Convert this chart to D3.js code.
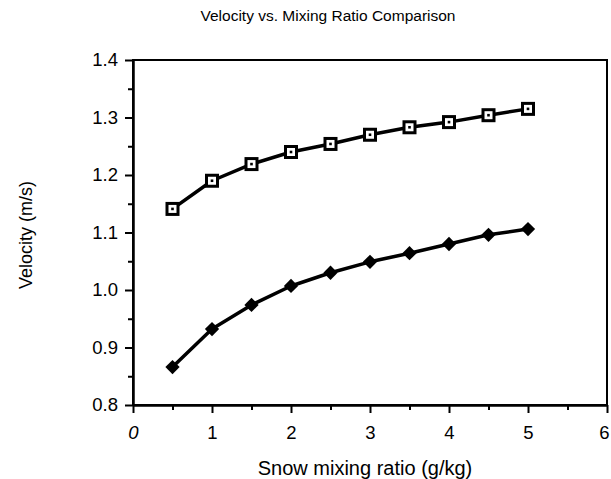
<!DOCTYPE html>
<html>
<head>
<meta charset="utf-8">
<script src="https://cdn.jsdelivr.net/npm/d3@7"></script>
<style>
	body { margin: 0; background: #fff; }
	svg { font-family: 'Liberation Sans', Arial, sans-serif; }
</style>
</head>
<body>
<script>
let width = 611;
let height = 479;

// snow mixing ratio (g/kg)
const mixing = [0.5, 1, 1.5, 2, 2.5, 3, 3.5, 4, 4.5, 5];
// open squares (upper curve)
const velSquare = [1.141, 1.190, 1.219, 1.240, 1.254, 1.270, 1.283, 1.292, 1.304, 1.315];
// filled diamonds (lower curve)
const velDiamond = [0.866, 0.932, 0.974, 1.007, 1.030, 1.049, 1.064, 1.080, 1.096, 1.106];

const xTicks = [0, 1, 2, 3, 4, 5, 6];
const xMinor = [0.5, 1.5, 2.5, 3.5, 4.5, 5.5];
const yTicks = [0.8, 0.9, 1.0, 1.1, 1.2, 1.3, 1.4];
const yMinor = [0.85, 0.95, 1.05, 1.15, 1.25, 1.35];

const plotLeft = 133, plotRight = 607, plotTop = 60, plotBottom = 405;

let svg = d3.select('body').append('svg')
	.attr('width', width)
	.attr('height', height);

let x = d3.scaleLinear().domain([0, 6]).range([plotLeft, plotRight]);
let y = d3.scaleLinear().domain([0.8, 1.4]).range([plotBottom, plotTop]);

// frame
svg.append('rect')
	.attr('x', plotLeft)
	.attr('y', plotTop)
	.attr('width', plotRight - plotLeft)
	.attr('height', plotBottom - plotTop)
	.style('fill', 'none')
	.style('stroke', '#000')
	.style('stroke-width', 2);

// x axis
let xAxis = svg.append('g')
	.attr('transform', 'translate(0,' + plotBottom + ')')
	.call(d3.axisBottom(x).tickValues(xTicks).tickFormat(d3.format('d')).tickSize(8).tickSizeOuter(0).tickPadding(13));
xAxis.append('g')
	.call(d3.axisBottom(x).tickValues(xMinor).tickFormat('').tickSize(5).tickSizeOuter(0));

// y axis
let yAxis = svg.append('g')
	.attr('transform', 'translate(' + plotLeft + ',0)')
	.call(d3.axisLeft(y).tickValues(yTicks).tickFormat(d3.format('.1f')).tickSize(8).tickSizeOuter(0).tickPadding(7));
yAxis.append('g')
	.call(d3.axisLeft(y).tickValues(yMinor).tickFormat('').tickSize(5).tickSizeOuter(0));

svg.selectAll('.domain').style('stroke-width', 2);
svg.selectAll('.tick line').style('stroke-width', 2);
svg.selectAll('.tick text')
	.style('font-size', '18.5px')
	.style('fill', '#000');
xAxis.selectAll('.tick text').filter(d => d === 0).style('font-style', 'italic');
xAxis.selectAll('.tick text').filter(d => d === 6).attr('dx', -3);

// titles
svg.append('text')
	.attr('x', 328)
	.attr('y', 21)
	.attr('text-anchor', 'middle')
	.style('font-size', '15.5px')
	.text('Velocity vs. Mixing Ratio Comparison');

svg.append('text')
	.attr('x', 365)
	.attr('y', 475)
	.attr('text-anchor', 'middle')
	.style('font-size', '20px')
	.text('Snow mixing ratio (g/kg)');

svg.append('text')
	.attr('transform', 'translate(32,235) rotate(-90)')
	.attr('text-anchor', 'middle')
	.style('font-size', '18px')
	.text('Velocity (m/s)');

// lines
let line = d3.line()
	.x((d, i) => x(mixing[i]))
	.y(d => y(d));

for (let series of [velSquare, velDiamond]) {
	svg.append('path')
		.datum(series)
		.attr('d', line)
		.style('fill', 'none')
		.style('stroke', '#000')
		.style('stroke-width', 3.5)
		.style('stroke-linejoin', 'round');
}

// square markers
let sq = svg.selectAll('.sq').data(velSquare).enter().append('g')
	.attr('class', 'sq')
	.attr('transform', (d, i) => 'translate(' + x(mixing[i]) + ',' + y(d) + ')');
sq.append('rect')
	.attr('x', -5.5).attr('y', -5.5)
	.attr('width', 11).attr('height', 11)
	.style('fill', '#fff')
	.style('stroke', '#000')
	.style('stroke-width', 3);
sq.append('rect')
	.attr('x', -1.3).attr('y', -1.3)
	.attr('width', 2.6).attr('height', 2.6)
	.style('fill', '#000');

// diamond markers
svg.selectAll('.dm').data(velDiamond).enter().append('path')
	.attr('class', 'dm')
	.attr('d', d3.symbol().type(d3.symbolDiamond2).size(130))
	.attr('transform', (d, i) => 'translate(' + x(mixing[i]) + ',' + y(d) + ')')
	.style('fill', '#000');
</script>
</body>
</html>
